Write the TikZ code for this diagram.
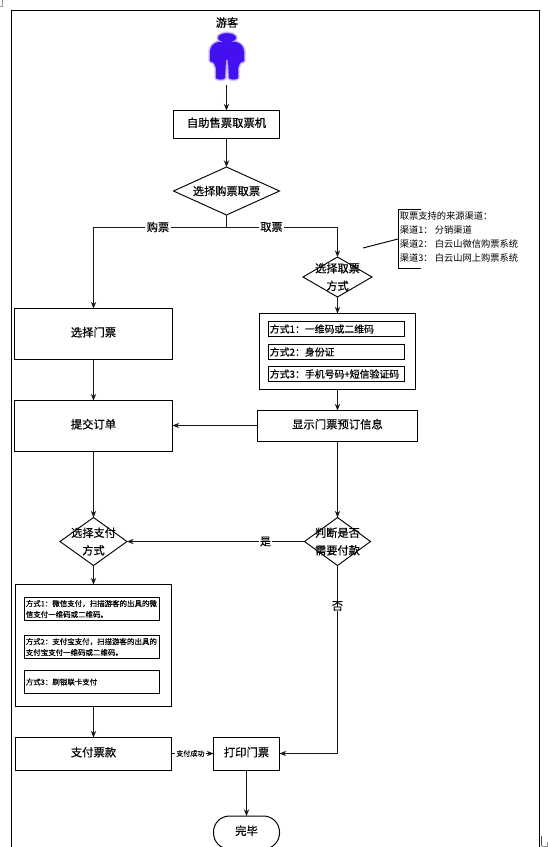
\documentclass[tikz,border=0pt]{standalone}
\usepackage{fontspec}
\setmainfont{Noto Sans CJK SC}
\newfontfamily\med[FakeBold=0.5]{Noto Sans CJK SC}
\usetikzlibrary{shapes.geometric,arrows.meta}
\newcommand{\fz}[2]{\fontsize{#1}{#2}\selectfont}
\definecolor{figblue}{RGB}{68,16,240}
\newcommand{\figbody}{(218,37.8) arc[start angle=180,end angle=-180,x radius=9,y radius=4.6]
  (218,42) -- (236,42) .. controls (241,43.5) and (244,47) .. (244,52) -- (244,61) -- (240,63) -- (238,68) -- (238,78) .. controls (236,80) and (231,80) .. (229,78) -- (228,60) -- (226,60) -- (225,78) .. controls (223,80) and (218,80) .. (216,78) -- (216,68) -- (214,63) -- (210,61) -- (210,52) .. controls (210,47) and (213,43.5) .. (218,42) -- cycle}
\tikzset{
  ln/.style={line width=0.75pt,draw=black!90},
  arr/.style={ln,-{Stealth[length=5pt,width=4pt]}},
  boxn/.style 2 args={draw=black,line width=0.75pt,rectangle,inner sep=0pt,outer sep=0pt,minimum width=#1*0.75pt,minimum height=#2*0.75pt,font=\med\fz{8.5}{11},text height=7pt,text depth=3.2pt},
  subn/.style 2 args={draw=black,line width=0.75pt,rectangle,inner xsep=1pt,inner ysep=0pt,outer sep=0pt,minimum height=#2*0.75pt,text width=#1*0.75pt-2pt,align=left},
  dia/.style 2 args={draw=black,line width=0.7pt,diamond,inner sep=0pt,outer sep=0pt,minimum width=#1*0.75pt,minimum height=#2*0.75pt},
  dlab/.style={font=\med\fz{8.4}{13.2},align=center,inner sep=0pt},
  tlab/.style={fill=white,inner xsep=1pt,inner ysep=0pt,font=\med\fz{8.4}{11}},
  up/.style={yshift=0.375pt},
}
\begin{document}
\begin{tikzpicture}[x=0.75pt,y=-0.75pt]
\clip (0,0) rectangle (548,847);
\fill[white] (0,0) rectangle (548,847);
% page frame and stray corner marks
\draw[line width=0.85pt,black] (11.5,848) -- (11.5,10.5) -- (539.5,10.5) -- (539.5,848);
\draw[line width=0.5pt,black!40] (0.3,6) -- (2,6) -- (2,0);
\draw[line width=0.6pt,black!70] (541.5,836) -- (541.5,846);
\draw[line width=0.6pt,black!45] (541.5,846.3) -- (547.5,846.3) -- (547.5,842);
% person figure
\path[draw=figblue,opacity=0.15,line width=3pt,line join=round] \figbody;
\path[draw=figblue,opacity=0.3,line width=1.5pt,line join=round] \figbody;
\fill[figblue] \figbody;
% nodes
\node[font=\med\fz{8.4}{11},inner sep=0pt] (visitor) at (227,22.5) {游客};
\node[minimum width=36*0.75pt,minimum height=52*0.75pt,inner sep=0pt,outer sep=0pt] (person) at (226.5,59) {};
\node[boxn={106}{28}] (kiosk) at (226.5,124.5) {自助售票取票机};
\node[dia={106}{48},label={[dlab]center:选择购票取票}] (d1) at (226.5,191) {};
\coordinate (split) at (226.5,227.5);
\node[boxn={158}{51}] (choose) at (93.5,334) {选择门票};
\node[dia={69}{40},label={[dlab]center:选择取票\\方式}] (d2) at (337.5,277) {};
\node[draw=none,inner sep=0pt,font=\fz{6.95}{10.6},align=left,anchor=west] (note) at (399.5,237) {取票支持的来源渠道：\\渠道1： 分销渠道\\渠道2： 白云山微信购票系统\\渠道3： 白云山网上购票系统};
\coordinate (notefree) at (363,248);
\coordinate (notejoin) at (398,239);
\node[boxn={156}{76}] (ways) at (337.5,351.5) {};
\node[subn={136}{15},font=\med\fz{7.4}{10}] (w1) at (336.5,329) {方式1：一维码或二维码};
\node[subn={136}{15},font=\med\fz{7.4}{10}] (w2) at (336.5,352) {方式2：身份证};
\node[subn={136}{15},font=\med\fz{7.4}{10}] (w3) at (336.5,374) {方式3：手机号码+短信验证码};
\node[boxn={160}{31}] (show) at (337.5,426) {显示门票预订信息};
\node[boxn={158}{51}] (submit) at (93.5,426) {提交订单};
\node[dia={67}{48},label={[dlab]center:选择支付\\方式}] (d3) at (93.5,541.5) {};
\node[dia={66}{48},label={[dlab]center:判断是否\\需要付款}] (d4) at (337.5,541.5) {};
\node[boxn={156}{122}] (pays) at (93.5,645.5) {};
\node[subn={135}{23},font=\med\fz{5.6}{8.2}] (p1) at (92,609) {方式1：微信支付，扫描游客的出具的微\\信支付一维码或二维码。};
\node[subn={135}{23},font=\med\fz{5.6}{8.2}] (p2) at (92,647) {方式2：支付宝支付，扫描游客的出具的\\支付宝支付一维码或二维码。};
\node[subn={135}{23},font=\med\fz{5.6}{8.2}] (p3) at (92,682) {方式3：刷银联卡支付};
\node[boxn={156}{33}] (pay) at (93.5,754) {支付票款};
\node[boxn={66}{33}] (print) at (246.5,754) {打印门票};
\node[boxn={66}{33},rounded corners=12pt] (done) at (246.5,832.5) {完毕};
% connectors
\draw[arr] (person) -- (kiosk);
\draw[arr] (kiosk) -- (d1);
\draw[ln] (d1.south) -- (split);
\draw[arr] (split) -| (choose.north);
\draw[arr] (split) -| (d2.north);
\node[tlab] (buy) at (158,227) {购票};
\node[tlab] (fetch) at (271.5,227) {取票};
\draw[line width=0.7pt,black] (notefree) -- (notejoin);
\draw[line width=0.7pt,black] (421,209.5) -- (398.5,209.5) -- (398.5,268.5) -- (421,268.5);
\draw[arr] (d2.south) -- (ways.north);
\draw[arr] (ways.south) -- (show.north);
\draw[arr] (choose) -- (submit);
\draw[arr] ([up]show.west) -- ([up]submit.east);
\draw[arr] (submit) -- (d3);
\draw[arr] (show) -- (d4);
\draw[arr] (d4) -- node[tlab,pos=0.22] (yes) {是} (d3);
\draw[arr] (d3) -- (pays.north);
\draw[arr] (pays.south) -- (pay.north);
\draw[arr] ([up]pay.east) -- node[tlab,font=\med\fz{5.3}{7},pos=0.45] (ok) {支付成功} ([up]print.west);
\draw[arr] (d4.south) |- ([up]print.east);
\node[tlab] (no) at (337.5,606) {否};
\draw[arr] (print) -- (done);
\end{tikzpicture}
\end{document}
